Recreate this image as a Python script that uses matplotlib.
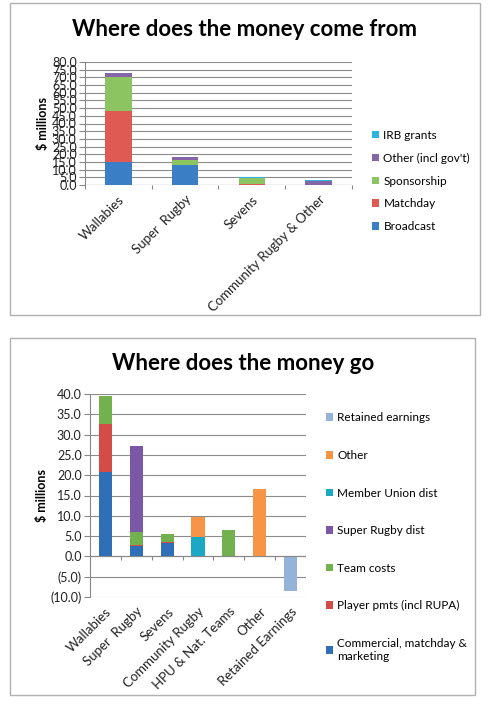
import numpy as np
import matplotlib
matplotlib.use('Agg')
from matplotlib import pyplot as plt
from matplotlib.patches import Rectangle

plt.rcParams['font.family'] = ['Lato', 'DejaVu Sans']

# where the money comes from
src_cats = ['Wallabies', 'Super  Rugby', 'Sevens', 'Community Rugby & Other']
broadcast = [15.2, 13.0, 0.0, 0.0]
matchday = [33.1, 0.0, 0.8, 0.0]
sponsorship = [22.2, 3.2, 3.6, 0.0]
other_gov = [2.2, 1.7, 0.0, 2.3]
irb_grants = [0.0, 0.0, 0.8, 0.7]
src_ticks = np.arange(0, 80.1, 5)

# where the money goes
use_cats = ['Wallabies', 'Super  Rugby', 'Sevens', 'Community Rugby',
            'HPU & Nat. Teams', 'Other', 'Retained Earnings']
commercial = [20.7, 2.6, 3.2, 0.0, 0.0, 0.0, 0.0]
player_pmts = [11.9, 0.2, 0.3, 0.0, 0.0, 0.0, 0.0]
team_costs = [6.8, 3.3, 1.9, 0.0, 6.5, 0.0, 0.0]
sr_dist = [0.0, 21.0, 0.0, 0.0, 0.0, 0.0, 0.0]
mu_dist = [0.0, 0.0, 0.0, 4.9, 0.0, 0.0, 0.0]
other_use = [0.0, 0.0, 0.0, 4.9, 0.0, 16.5, 0.0]
retained = [0.0, 0.0, 0.0, 0.0, 0.0, 0.0, -8.5]
use_ticks = np.arange(-10, 40.1, 5)


def fmt(v):
    if v < 0:
        return '(%.1f)' % -v
    return '%.1f' % v


def stack(ax, x, series, width):
    bottom = np.zeros(len(x))
    for vals, col, lab in series:
        vals = np.array(vals)
        ax.bar(x, vals, width, bottom=bottom, color=col, label=lab)
        bottom = bottom + vals


def style_axes(ax, ticks, ncat):
    for s in ['top', 'right', 'bottom']:
        ax.spines[s].set_visible(False)
    ax.spines['left'].set_color('#888888')
    ax.spines['left'].set_linewidth(0.8)
    ax.set_yticks(ticks)
    ax.set_yticklabels([fmt(t) for t in ticks], fontsize=9, color='#222222')
    ax.yaxis.grid(True, color='#8c8c8c', linewidth=0.8)
    ax.set_axisbelow(True)
    ax.tick_params(axis='y', length=4, width=0.8, color='#888888', pad=2)
    ax.tick_params(axis='x', length=0, pad=6)
    ax.set_xlim(-0.5, ncat - 0.5)
    ax.set_ylabel('$ millions', fontsize=9, fontweight='bold', labelpad=2)


fig = plt.figure(figsize=(4.88, 7.05), dpi=100)
W, H = 488.0, 705.0

# frames round each chart
fig.patches.append(Rectangle((10 / W, 1 - 315 / H), 470 / W, 312 / H,
                             transform=fig.transFigure, fill=False,
                             edgecolor='#b0b0b0', linewidth=1.0))
fig.patches.append(Rectangle((10 / W, 1 - 695 / H), 465 / W, 357 / H,
                             transform=fig.transFigure, fill=False,
                             edgecolor='#b0b0b0', linewidth=1.0))

# top chart
ax1 = fig.add_axes([85 / W, 1 - 185 / H, 267 / W, 123 / H])
x1 = np.arange(len(src_cats))
stack(ax1, x1, [(broadcast, '#3a7ec6', 'Broadcast'),
                (matchday, '#df5a52', 'Matchday'),
                (sponsorship, '#8cc462', 'Sponsorship'),
                (other_gov, '#8465a8', "Other (incl gov't)"),
                (irb_grants, '#2cb5e2', 'IRB grants')], 0.4)
style_axes(ax1, src_ticks, len(src_cats))
ax1.set_ylim(0, 80)
ax1.axhline(0, color='#888888', linewidth=0.8)
ax1.vlines(np.arange(len(src_cats) + 1) - 0.5, 0, -2.6, color='#888888',
           linewidth=0.8, clip_on=False)
ax1.set_xticks(x1)
ax1.set_xticklabels(src_cats, rotation=45, ha='right', rotation_mode='anchor',
                    fontsize=9.5, color='#222222')
fig.text(245 / W, 1 - 30 / H, 'Where does the money come from', fontsize=16,
         fontweight='bold', ha='center', va='center')
h1, l1 = ax1.get_legend_handles_labels()
fig.legend(h1[::-1], l1[::-1], loc='center left',
           bbox_to_anchor=(361 / W, 1 - 181 / H), frameon=False, fontsize=8.5,
           handlelength=0.6, handleheight=0.6, handletextpad=0.4,
           labelspacing=1.0)

# bottom chart
ax2 = fig.add_axes([90 / W, 1 - 597 / H, 216 / W, 203 / H])
x2 = np.arange(len(use_cats))
stack(ax2, x2, [(commercial, '#2f6fb7', 'Commercial, matchday &\nmarketing'),
                (player_pmts, '#d34c48', 'Player pmts (incl RUPA)'),
                (team_costs, '#73b14f', 'Team costs'),
                (sr_dist, '#7a58a6', 'Super Rugby dist'),
                (mu_dist, '#1ba8c4', 'Member Union dist'),
                (other_use, '#f79446', 'Other')], 0.43)
ax2.bar(x2, retained, 0.43, color='#95b3d9', label='Retained earnings')
style_axes(ax2, use_ticks, len(use_cats))
ax2.set_ylim(-10, 40)
ax2.axhline(0, color='#888888', linewidth=0.8)
ax2.vlines(np.arange(len(use_cats) + 1) - 0.5, 0, -0.8, color='#888888',
           linewidth=0.8)
ax2.set_xticks(x2)
ax2.set_xticklabels(use_cats, rotation=45, ha='right', rotation_mode='anchor',
                    fontsize=9.5, color='#222222')
fig.text(243 / W, 1 - 363 / H, 'Where does the money go', fontsize=16,
         fontweight='bold', ha='center', va='center')
h2, l2 = ax2.get_legend_handles_labels()
fig.legend(h2[::-1], l2[::-1], loc='center left',
           bbox_to_anchor=(315 / W, 1 - 537 / H), frameon=False, fontsize=8.5,
           handlelength=0.6, handleheight=0.6, handletextpad=0.4,
           labelspacing=2.25)

fig.savefig('out.png', dpi=100)
plt.close(fig)
